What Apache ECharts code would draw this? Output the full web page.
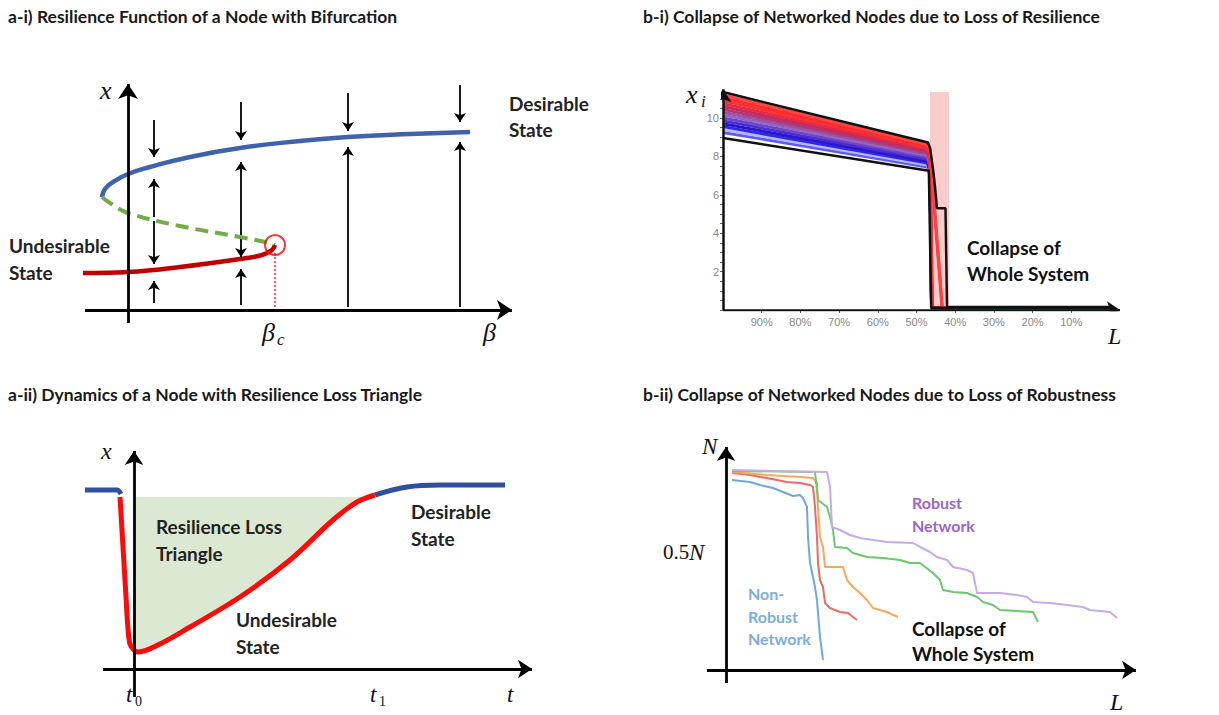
<!DOCTYPE html>
<html><head><meta charset="utf-8">
<script src="https://cdn.jsdelivr.net/npm/echarts@6/dist/echarts.min.js"></script>
<style>html,body{margin:0;padding:0;background:#fff}#c{width:1219px;height:715px}</style>
</head><body><div id="c"></div>
<script>
// ---------- Panel a-i : bifurcation (units: x = beta offset, y = state) ----------
const a1Upper = [[-26,113],[-23,121],[-15,128],[0,136],[22,143],[62,153],[112,162],[172,169],[220,173],[282,176],[342,178]];
const a1Unstable = [[-26,113],[-18,107],[0,97],[52,84],[112,73],[137,68],[147,65]];
const a1Lower = [[-45,37],[0,38],[52,43],[112,51],[134,55],[144,60],[147,65]];
const a1Critical = [[147,65]];
const a1CriticalDrop = [[147,57],[147,0]];
const a1Arrows = [
  [[26,190],[26,153]], [[26,93],[26,131]], [[26,89],[26,46]], [[26,7],[26,29]],
  [[113,208],[113,170]], [[113,75],[113,148]], [[113,71],[113,53]], [[113,5],[113,41]],
  [[220,217],[220,179]], [[220,3],[220,163]],
  [[332,225],[332,188]], [[332,3],[332,168]]
];
const a1Axes = [[[0,-13],[0,226]], [[-43,0],[384,0]]];

// ---------- Panel a-ii : dynamics (units: t offset, state) ----------
const a2Before = [[-49,179],[-17,179],[-13,175]];
const a2Disrupted = [[-14,172],[-11,122],[-8,72],[-6,40],[-4,25],[0,19],[4,17],[26,25],[56,42],[106,72],[156,109],[199,149],[223,167],[241,174]];
const a2After = [[241,174],[273,182],[306,184],[371,184]];
const a2Loss = [[1,172],[230,172],[223,167],[210,158],[199,149],[178,129],[156,109],[131,90],[106,72],[81,56],[56,42],[40,33],[26,25],[14,20],[4,17],[1,18]];
const a2Axes = [[[0,-28],[0,218]], [[-31,0],[398,0]]];

// ---------- Panel b-i : resilience collapse (L in %, x_i) ----------
const b1XTicks = [90,80,70,60,50,40,30,20,10];
const b1YTicks = [2,4,6,8,10];
const b1MinorY = [0,0.5,1,1.5,2,2.5,3,3.5,4,4.5,5,5.5,6,6.5,7,7.5,8,8.5,9,9.5,10,10.5,11];
const b1Start = [9.25,9.4,9.55,9.7,9.85,10.0,10.15,10.3,10.45,10.6,10.75,10.9,11.05,11.2];
const b1Knee  = [7.45,7.55,7.65,7.75,7.85,7.95,8.05,8.12,8.2,8.3,8.38,8.48,8.55,8.62];
const b1Bend  = [7.0,7.1,7.2,7.3,7.4,7.5,7.6,7.7,7.8,7.9,8.0,8.1,8.2,8.4];
const b1DropL = [46.1,46.1,46.1,46.1,46.1,46.1,46.1,46.0,46.0,46.0,45.9,45.9,43.4,43.3];
const b1Colors = ['#5a5aff','#b8b8ff','#3326e6','#2a18cc','#4a2ed4','#6e46c8','#9068c4','#a050a0','#b03878','#c8285a','#e02c44','#ff3030','#ff2a2a','#ff4444'];
const b1TopBlack = [[100,11.35],[47,8.72],[46.5,8.44],[45.7,7.3],[45.2,6.4],[44.7,5.3],[42.5,5.3],[42.1,0.15],[0,0.15]];
const b1BottomBlack = [[100,8.96],[46.8,7.25],[46.2,0.12],[0,0.12]];
const b1Band = [46.5, 41.6];
const b1Axes = [[[100,0],[-2.6,0]], [[100,0],[100,11.5]]];

// ---------- Panel b-ii : robustness collapse (units: L offset, N) ----------
const b2NonRobust = [[6,190],[24,188],[34,185],[47,182],[57,178],[67,174],[74,175],[77,172],[81,163],[82,133],[84,107],[87,93],[89,83],[91,70],[92,57],[94,33],[97,10]];
const b2Red = [[6,197],[24,195],[34,193],[41,192],[61,188],[74,187],[84,185],[87,183],[89,163],[91,133],[92,107],[94,90],[97,83],[99,67],[104,62],[114,58],[122,57],[127,53],[131,50]];
const b2Orange = [[6,198],[41,195],[74,193],[87,192],[91,187],[92,163],[94,133],[97,123],[99,103],[107,103],[117,103],[121,90],[127,83],[134,77],[141,70],[147,62],[161,58],[167,55],[172,53]];
const b2Green = [[6,199],[89,198],[92,170],[101,163],[104,153],[107,140],[109,123],[121,122],[127,117],[134,115],[141,113],[157,112],[174,110],[184,107],[194,107],[207,97],[214,90],[217,80],[227,78],[241,77],[251,73],[257,68],[267,65],[274,60],[307,58],[312,48]];
const b2Robust = [[6,200],[101,198],[104,183],[106,143],[114,140],[124,135],[134,132],[147,130],[161,128],[187,127],[194,123],[204,118],[211,113],[221,110],[227,103],[241,100],[247,97],[251,77],[274,77],[291,75],[301,73],[307,68],[324,67],[341,65],[357,63],[364,60],[384,58],[391,52]];
const b2Axes = [[[0,-13],[0,223]], [[-19,0],[410,0]]];

// ---------- texts ----------
const titles = [
  {t:'a-i) Resilience Function of a Node with Bifurcation', x:8, y:16},
  {t:'a-ii) Dynamics of a Node with Resilience Loss Triangle', x:8, y:394},
  {t:'b-i) Collapse of Networked Nodes due to Loss of Resilience', x:643, y:16},
  {t:'b-ii) Collapse of Networked Nodes due to Loss of Robustness', x:643, y:394}
];
const labels = [
  {t:'Desirable', x:509, y:103, c:'#222', s:19}, {t:'State', x:509, y:129, c:'#222', s:19},
  {t:'Undesirable', x:9, y:245, c:'#222', s:19}, {t:'State', x:9, y:272, c:'#222', s:19},
  {t:'Resilience Loss', x:156, y:526, c:'#222', s:19}, {t:'Triangle', x:156, y:553, c:'#222', s:19},
  {t:'Desirable', x:411, y:511, c:'#222', s:19}, {t:'State', x:411, y:538, c:'#222', s:19},
  {t:'Undesirable', x:236, y:619, c:'#222', s:19}, {t:'State', x:236, y:646, c:'#222', s:19},
  {t:'Collapse of', x:967, y:247, c:'#111', s:19}, {t:'Whole System', x:967, y:273, c:'#111', s:19},
  {t:'Robust', x:912, y:502, c:'#9a66cc', s:16}, {t:'Network', x:912, y:525, c:'#9a66cc', s:16},
  {t:'Non-', x:748, y:593, c:'#7aaedc', s:16}, {t:'Robust', x:748, y:616, c:'#7aaedc', s:16}, {t:'Network', x:748, y:638, c:'#7aaedc', s:16},
  {t:'Collapse of', x:912, y:628, c:'#111', s:19}, {t:'Whole System', x:912, y:653, c:'#111', s:19}
];
const mathLabels = [
  {t:'x', x:100, y:90, s:26}, {t:'β', x:262, y:332, s:26}, {t:'c', x:277, y:339, s:17}, {t:'β', x:483, y:332, s:26},
  {t:'x', x:101, y:451, s:24}, {t:'t', x:126, y:694, s:23}, {t:'0', x:135, y:701, s:14}, {t:'t', x:370, y:694, s:23}, {t:'1', x:379, y:701, s:14}, {t:'t', x:507, y:694, s:23},
  {t:'x', x:686, y:94, s:26}, {t:'i', x:701, y:101, s:17}, {t:'L', x:1108, y:336, s:24},
  {t:'N', x:702, y:446, s:23}, {t:'0.5', x:663, y:552, s:21}, {t:'N', x:689, y:552, s:23}, {t:'L', x:1110, y:702, s:24}
];

// ---------- build ----------
const chart = echarts.init(document.getElementById('c'), null, {renderer:'svg'});
const hidden = (min, max, extra) => Object.assign({type:'value', min, max, show:false}, extra||{});
const arrowLines = (data, gi, width, size, color) => ({
  type:'lines', coordinateSystem:'cartesian2d', xAxisIndex:gi, yAxisIndex:gi, silent:true,
  symbol:['none','arrow'], symbolSize:size, z:5,
  lineStyle:{color:color||'#000', width, opacity:1, curveness:0},
  data: data.map(c => ({coords:c}))
});
const line = (data, gi, color, width, extra) => Object.assign({
  type:'line', xAxisIndex:gi, yAxisIndex:gi, data, showSymbol:false, symbol:'none', silent:true,
  lineStyle:{color, width}, z:3
}, extra||{});

const series = [];
// a-i
series.push(line(a1Upper, 0, '#3f62ad', 4.5, {smooth:0.5}));
series.push(line(a1Unstable, 0, '#70ad47', 4, {smooth:0.4, lineStyle:{color:'#70ad47', width:4, type:[13,7]}}));
series.push(line(a1Lower, 0, '#c00000', 4.5, {smooth:0.4}));
series.push(line(a1CriticalDrop, 0, '#ff0000', 1.5, {lineStyle:{color:'#ff2020', width:1.5, type:[2,2]}}));
series.push({type:'scatter', xAxisIndex:0, yAxisIndex:0, data:a1Critical, symbol:'circle', symbolSize:20, silent:true, z:6,
  itemStyle:{color:'rgba(0,0,0,0)', borderColor:'#ff0000', borderWidth:2}});
series.push(arrowLines(a1Arrows, 0, 1.8, 9));
series.push(arrowLines(a1Axes, 0, 2.8, 15));
// a-ii
series.push({type:'custom', xAxisIndex:1, yAxisIndex:1, silent:true, z:1, data:[0],
  renderItem:(params, api) => ({type:'polygon', shape:{points:a2Loss.map(p => api.coord(p))}, style:{fill:'#dce9d2'}})});
series.push(line(a2Before, 1, '#2f50a0', 5, {smooth:0.3}));
series.push(line(a2After, 1, '#2f50a0', 5, {smooth:0.4}));
series.push(line(a2Disrupted, 1, '#ff0a0a', 5, {smooth:0.35, z:4}));
series.push(arrowLines(a2Axes, 1, 2.8, 14));
// b-i
b1Start.forEach((s, i) => {
  series.push(line([[100,s],[47.2,b1Knee[i]],[46.5,b1Bend[i]],[b1DropL[i],0.12],[0,0.12]], 2, b1Colors[i], 3, {z:2}));
});
series.push(line(b1TopBlack, 2, '#111', 2.5, {z:4}));
series.push(line(b1BottomBlack, 2, '#111', 2.5, {z:4,
  markArea:{silent:true, itemStyle:{color:'rgba(248,170,170,0.6)'}, data:[[{xAxis:b1Band[0], yAxis:0},{xAxis:b1Band[1], yAxis:11.35}]]}}));
series.push(arrowLines(b1Axes, 2, 2.5, 13, '#111'));
// b-ii
series.push(line(b2NonRobust, 3, '#6fa8dc', 2));
series.push(line(b2Red, 3, '#ec6a63', 2));
series.push(line(b2Orange, 3, '#f8a85a', 2));
series.push(line(b2Green, 3, '#6cc86c', 2));
series.push(line(b2Robust, 3, '#c9a8ee', 2));
series.push(arrowLines(b2Axes, 3, 2.8, 14));

const graphic = [];
titles.forEach(o => graphic.push({type:'text', silent:true, z:100, style:{text:o.t, x:o.x, y:o.y, fill:'#1a1a1a',
  font:'bold 17.5px Lato, "Open Sans", sans-serif', verticalAlign:'middle'}}));
labels.forEach(o => graphic.push({type:'text', silent:true, z:100, style:{text:o.t, x:o.x, y:o.y, fill:o.c,
  font:'bold '+o.s+'px Lato, "Open Sans", sans-serif', verticalAlign:'middle'}}));
mathLabels.forEach(o => graphic.push({type:'text', silent:true, z:100, style:{text:o.t, x:o.x, y:o.y, fill:'#111',
  font:(/^[0-9.]+$/.test(o.t)?'':'italic ')+o.s+'px "Liberation Serif", "DejaVu Serif", serif', verticalAlign:'middle'}}));

chart.setOption({
  animation:false,
  backgroundColor:'#fff',
  grid:[
    {left:60, top:70, width:470, height:280},
    {left:60, top:440, width:480, height:270},
    {left:723, top:89.2, width:397, height:220.8},
    {left:690, top:430, width:450, height:270}
  ],
  xAxis:[
    hidden(-68, 402, {gridIndex:0}),
    hidden(-74, 406, {gridIndex:1}),
    {type:'value', gridIndex:2, min:-2.6, max:100, inverse:true, position:'bottom',
      axisLine:{show:false, onZero:false}, splitLine:{show:false},
      axisTick:{show:true, customValues:b1XTicks, length:3, lineStyle:{color:'#666'}},
      axisLabel:{customValues:b1XTicks, formatter:v => v + '%', color:'#888', fontSize:11, margin:6, fontFamily:'Arial'}},
    hidden(-36, 414, {gridIndex:3})
  ],
  yAxis:[
    hidden(-40, 240, {gridIndex:0}),
    hidden(-41, 229, {gridIndex:1}),
    {type:'value', gridIndex:2, min:0, max:11.5, position:'left',
      axisLine:{show:false, onZero:false}, splitLine:{show:false},
      axisTick:{show:true, customValues:b1MinorY, length:3, lineStyle:{color:'#666'}},
      axisLabel:{customValues:b1YTicks, color:'#888', fontSize:11, margin:4, fontFamily:'Arial'}},
    hidden(-30, 240, {gridIndex:3})
  ],
  series,
  graphic
});
</script></body></html>
